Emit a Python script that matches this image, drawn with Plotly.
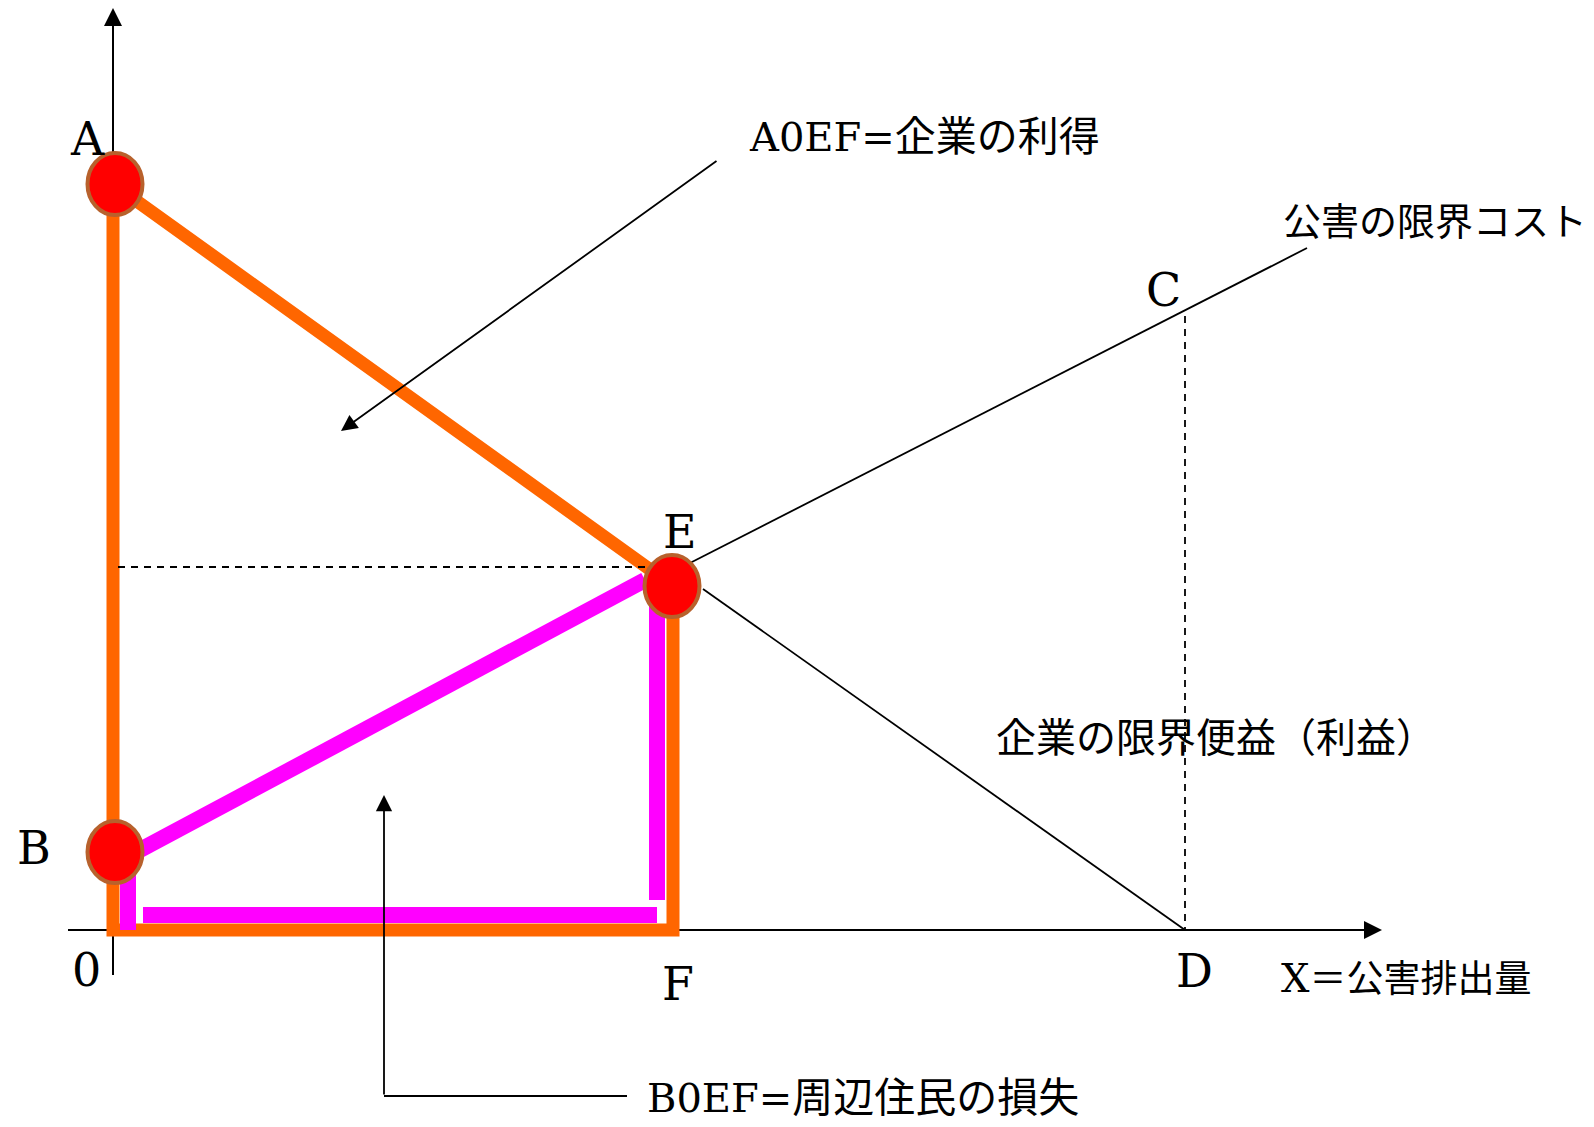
import plotly.graph_objects as go

W, H = 1594, 1127

# ---- diagram data (pixel-like diagram coordinates, y grows downward) ----
# red points
circle_names = ["A", "E", "B"]
circle_cx = [115, 672, 115]
circle_cy = [184, 586, 852]

# axes
yaxis_x = [113, 113]
yaxis_y = [975, 20]
xaxis_x = [68, 1370]
xaxis_y = [930, 930]

# orange outline A -> E -> F -> 0 -> A
orange_x = [113, 673, 673, 113, 113]
orange_y = [184, 586, 930, 930, 184]

# magenta outline segments (B -> E, verticals, bottom)
magenta_x = [125, 645, None, 128, 128, None, 143, 657, None, 657, 657]
magenta_y = [858, 580, None, 860, 930, None, 915, 915, None, 590, 900]

# thin curves: marginal cost of pollution, marginal benefit
cost_x = [690, 1307]
cost_y = [563, 248]
benefit_x = [703, 1185]
benefit_y = [589, 930]

# dashed guides
dash_h_x = [118, 650]
dash_h_y = [567, 567]
dash_v_x = [1185, 1185]
dash_v_y = [316, 930]

# callout lines
callout_b_x = [384, 627]
callout_b_y = [1096, 1096]

# point labels
pt_labels = ["A", "E", "C", "B", "0", "F", "D"]
pt_x = [87, 680, 1163, 34, 86, 678, 1194]
pt_y = [139, 532, 290, 848, 970, 984, 971]

# text labels: (latin part, japanese part)
txt_latin = ["A0EF=", "", "", "B0EF=", "X"]
txt_jp = ["企業の利得", "公害の限界コスト", "企業の限界便益（利益）", "周辺住民の損失", "＝公害排出量"]
txt_x = [747, 1281, 994, 645, 1279]
txt_y = [137, 222, 738, 1098, 978]
txt_jp_size = [41, 38, 40, 41, 37]

LATIN = "DejaVu Serif, Liberation Serif, Noto Sans CJK JP, serif"

fig = go.Figure()

def add_line(xs, ys, color, width, dash=None):
    fig.add_trace(go.Scatter(x=xs, y=ys, mode="lines", hoverinfo="skip",
                             line=dict(color=color, width=width, dash=dash)))

add_line(yaxis_x, yaxis_y, "black", 2)
add_line(xaxis_x, xaxis_y, "black", 2)
add_line(orange_x, orange_y, "#FF6600", 13)
add_line(magenta_x, magenta_y, "#FF00FF", 16)
add_line(cost_x, cost_y, "black", 1.8)
add_line(benefit_x, benefit_y, "black", 1.8)
add_line(dash_h_x, dash_h_y, "black", 1.8, "7px,6px")
add_line(dash_v_x, dash_v_y, "black", 1.8, "7px,6px")
add_line(callout_b_x, callout_b_y, "black", 1.8)

shapes = []
for cx, cy in zip(circle_cx, circle_cy):
    shapes.append(dict(type="circle", xref="x", yref="y",
                       x0=cx - 27.5, x1=cx + 27.5, y0=cy - 31, y1=cy + 31,
                       fillcolor="#FF0000", line=dict(color="#B8612C", width=4),
                       layer="above"))

annotations = []
arrow_common = dict(xref="x", yref="y", axref="x", ayref="y", text="", showarrow=True,
                    arrowhead=2, arrowcolor="black", standoff=0)
# axis arrowheads
annotations.append(dict(x=113, y=8, ax=113, ay=40, arrowsize=1.8, arrowwidth=2, **arrow_common))
annotations.append(dict(x=1382, y=930, ax=1350, ay=930, arrowsize=1.8, arrowwidth=2, **arrow_common))
# callout arrows
annotations.append(dict(x=341, y=431, ax=718, ay=160, arrowsize=1.8, arrowwidth=1.8, **arrow_common))
annotations.append(dict(x=384, y=795, ax=384, ay=1096, arrowsize=1.8, arrowwidth=1.8, **arrow_common))

for t, x, y in zip(pt_labels, pt_x, pt_y):
    annotations.append(dict(x=x, y=y, xref="x", yref="y", text=t, showarrow=False,
                            xanchor="center", yanchor="middle",
                            font=dict(family=LATIN, size=46, color="black")))
for lat, jp, x, y, s in zip(txt_latin, txt_jp, txt_x, txt_y, txt_jp_size):
    text = (f'<span style="font-size:40px">{lat}</span>' if lat else "") + jp
    annotations.append(dict(x=x, y=y, xref="x", yref="y", text=text, showarrow=False,
                            xanchor="left", yanchor="middle",
                            font=dict(family=LATIN, size=s, color="black")))

fig.update_layout(
    width=W, height=H, margin=dict(l=0, r=0, t=0, b=0),
    paper_bgcolor="white", plot_bgcolor="white", showlegend=False,
    xaxis=dict(range=[0, W], visible=False, fixedrange=True),
    yaxis=dict(range=[H, 0], visible=False, fixedrange=True),
    shapes=shapes, annotations=annotations,
)

fig.write_html("out.html", config={"displayModeBar": False},
               post_script="document.body.style.margin='0';")
